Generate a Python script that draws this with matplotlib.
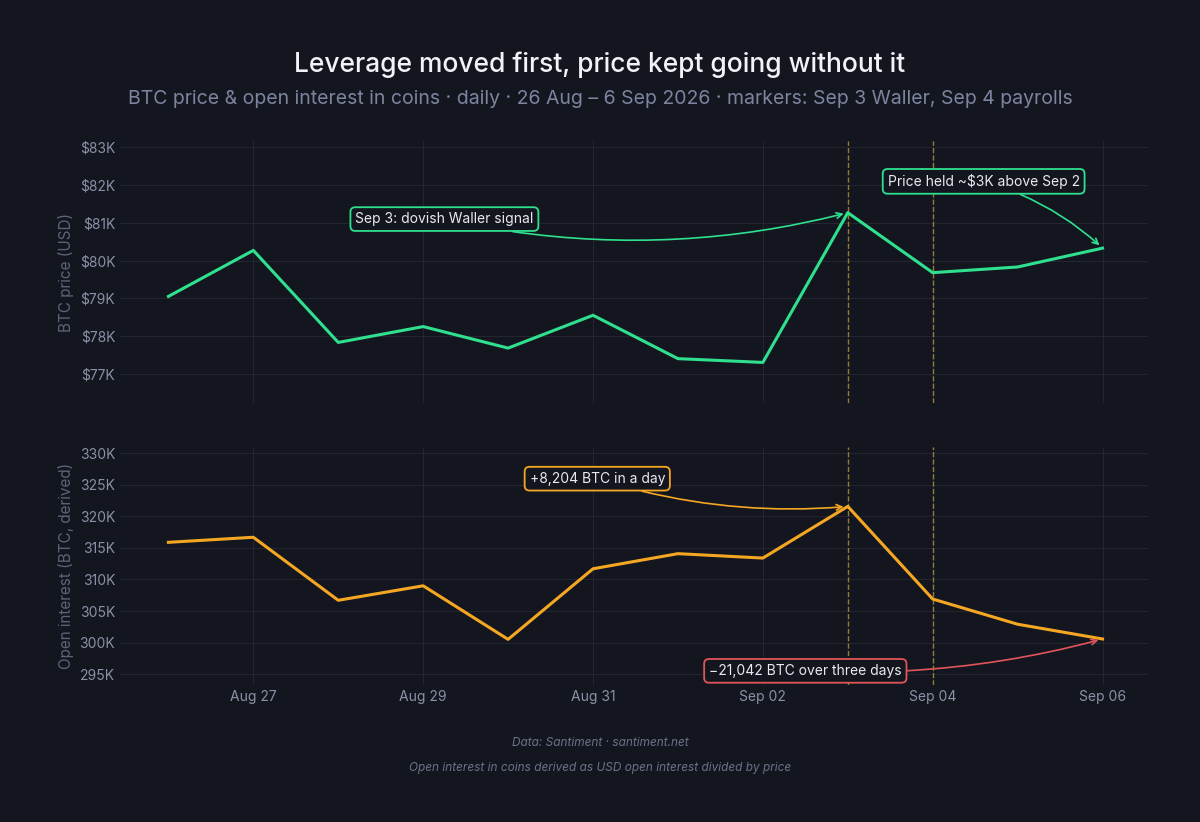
import matplotlib.pyplot as plt
import matplotlib.dates as mdates
import numpy as np
import datetime as dt

dates = [dt.date(2026, 8, 26) + dt.timedelta(days=i) for i in range(12)]
price = [79050, 80270, 77830, 78250, 77680, 78550, 77400, 77300, 81270, 79680, 79830, 80330]
oi = [315900, 316700, 306700, 309000, 300500, 311700, 314100, 313400, 321600, 306900, 302900, 300560]
markers = [dt.date(2026, 9, 3), dt.date(2026, 9, 4)]

BG = '#14161f'
GRID = '#23262f'
TICK = '#8a90a6'
GREEN = '#2fe08f'
ORANGE = '#f5a623'
RED = '#e0555a'

plt.rcParams['font.family'] = ['Inter', 'DejaVu Sans']
fig = plt.figure(figsize=(12, 8.22), dpi=100, facecolor=BG)
ax1 = fig.add_axes([0.1, 0.51, 0.857, 0.318])
ax2 = fig.add_axes([0.1, 0.167, 0.857, 0.289])

x0 = mdates.date2num(dates[0])
for ax in (ax1, ax2):
    ax.set_facecolor(BG)
    for s in ax.spines.values():
        s.set_visible(False)
    ax.grid(True, color=GRID, lw=0.8)
    ax.tick_params(colors=TICK, labelsize=10, length=0)
    ax.set_xlim(x0 - 0.57, x0 + 11.54)
    ax.xaxis.set_major_locator(mdates.DayLocator(bymonthday=[27, 29, 31, 2, 4, 6]))
    ax.xaxis.set_major_formatter(mdates.DateFormatter('%b %d'))
    for m in markers:
        ax.axvline(m, color='#b8943a', ls='--', lw=1, alpha=0.8)

ax1.plot(dates, price, color=GREEN, lw=2.2)
ax1.set_ylim(76230, 83160)
ax1.set_yticks(np.arange(77000, 83001, 1000))
ax1.set_yticklabels([f'${v // 1000}K' for v in range(77000, 83001, 1000)])
ax1.tick_params(labelbottom=False)
ax1.set_ylabel('BTC price (USD)', color='#5d6378', fontsize=11)

ax2.plot(dates, oi, color=ORANGE, lw=2.2)
ax2.set_ylim(293300, 331000)
ax2.set_yticks(np.arange(295000, 330001, 5000))
ax2.set_yticklabels([f'{v // 1000}K' for v in range(295000, 330001, 5000)])
ax2.set_ylabel('Open interest (BTC, derived)', color='#5d6378', fontsize=11)

def note(ax, text, xy, xytext, col, rad):
    ax.annotate(text, xy=xy, xytext=xytext, color='#e8eaf0', fontsize=10, ha='center', va='center',
                bbox=dict(boxstyle='round,pad=0.35', fc=BG, ec=col, lw=1.3),
                arrowprops=dict(arrowstyle='->', color=col, lw=1.2, connectionstyle=f'arc3,rad={rad}',
                                shrinkA=0, shrinkB=3))

note(ax1, 'Sep 3: dovish Waller signal', (dates[8], price[8]), (x0 + 3.25, 81100), GREEN, 0.12)
note(ax1, 'Price held ~$3K above Sep 2', (dates[11], price[11]), (x0 + 9.6, 82100), GREEN, -0.12)
note(ax2, '+8,204 BTC in a day', (dates[8], oi[8]), (x0 + 5.05, 326000), ORANGE, 0.1)
note(ax2, '\u221221,042 BTC over three days', (dates[11], oi[11]), (x0 + 7.5, 295500), RED, 0.08)

fig.text(0.5, 0.912, 'Leverage moved first, price kept going without it', ha='center', color='#f2f3f7',
         fontsize=19, fontweight='medium')
fig.text(0.5, 0.873, 'BTC price & open interest in coins \u00b7 daily \u00b7 26 Aug \u2013 6 Sep 2026 \u00b7 markers: Sep 3 Waller, Sep 4 payrolls',
         ha='center', color='#7d84a0', fontsize=14)
fig.text(0.5, 0.093, 'Data: Santiment \u00b7 santiment.net', ha='center', color='#6b7188', fontsize=8.5, style='italic')
fig.text(0.5, 0.062, 'Open interest in coins derived as USD open interest divided by price', ha='center',
         color='#6b7188', fontsize=8.5, style='italic')

fig.savefig('out.png', dpi=100, facecolor=BG)
